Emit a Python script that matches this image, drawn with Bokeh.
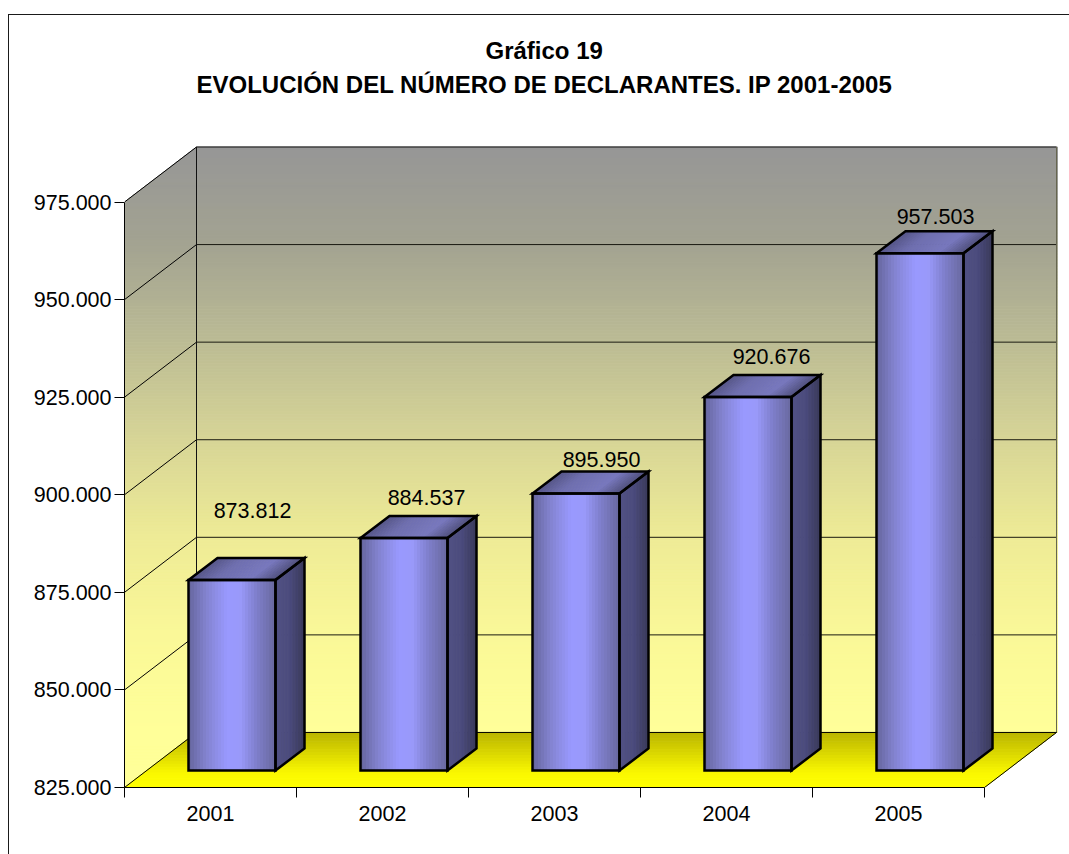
from bokeh.plotting import figure
from bokeh.models import Range1d, FixedTicker, Title, ColumnDataSource, InlineStyleSheet
from bokeh.embed import file_html
from bokeh.resources import INLINE
from bokeh.core.properties import value

# ---- data
years = ["2001", "2002", "2003", "2004", "2005"]
declarantes = [873812, 884537, 895950, 920676, 957503]
bar_labels = ["873.812", "884.537", "895.950", "920.676", "957.503"]
y_ticks = [825000, 850000, 875000, 900000, 925000, 950000, 975000]
y_tick_labels = ["825.000", "850.000", "875.000", "900.000", "925.000", "950.000", "975.000"]
title_line_1 = "Gráfico 19"
title_line_2 = "EVOLUCIÓN DEL NÚMERO DE DECLARANTES. IP 2001-2005"

# ---- layout (page pixels)
W, H = 1069, 854
AX_LEFT, AX_RIGHT = 124, 984
AX_BOTTOM, AX_TOP = 786.5, 201.5
FRAME_R, FRAME_T = 1060, 144
FONT = "Liberation Sans"
TEXT_SIZE = "21.5px"
slot_px = (AX_RIGHT - AX_LEFT) / len(years)
k = (y_ticks[-1] - y_ticks[0]) / (AX_BOTTOM - AX_TOP)   # value per pixel

def dxu(px):
    return px / slot_px

def dyu(px):
    return px * k

def X(px):
    return (px - AX_LEFT) / slot_px

def Y(py):
    return y_ticks[0] + (AX_BOTTOM - py) * k

def lerp(stops, t):
    for (t0, c0), (t1, c1) in zip(stops, stops[1:]):
        if t <= t1:
            f = 0 if t1 == t0 else (t - t0) / (t1 - t0)
            c = [round(a + (b - a) * f) for a, b in zip(c0, c1)]
            return "#%02x%02x%02x" % tuple(c)
    return "#%02x%02x%02x" % tuple(stops[-1][1])

WALL_DX, WALL_DY = dxu(72), dyu(55)
BAR_SHIFT_X, BAR_SHIFT_Y = dxu(21.5), dyu(17)
BAR_W = dxu(87)
BAR_DX, BAR_DY = dxu(29), dyu(22)
label_dx = [20.5, 22.5, 25.5, 23.5, 15.5]
label_dy = [86.5, 57.5, 51, 57.5, 54]

wall_stops = [(146, (150, 150, 150)), (244, (163, 163, 146)), (340, (187, 187, 148)),
              (440, (215, 213, 150)), (536, (238, 235, 150)), (634, (250, 248, 152)),
              (731, (255, 255, 153)), (790, (255, 255, 153))]
floor_stops = [(0.0, (185, 180, 0)), (0.75, (250, 248, 0)), (1.0, (255, 255, 0))]
front_stops = [(0.0, (100, 100, 155)), (0.2, (130, 130, 205)), (0.45, (153, 153, 255)),
               (0.6, (153, 153, 250)), (0.8, (125, 125, 200)), (1.0, (105, 105, 160))]
top_stops = [(0.0, (85, 85, 135)), (0.3, (110, 110, 175)), (0.7, (120, 120, 190)), (1.0, (80, 80, 125))]
side_stops = [(0.0, (82, 82, 132)), (0.5, (75, 75, 125)), (1.0, (58, 58, 90))]

frame_css = InlineStyleSheet(css=""":host::after {content: ""; position: absolute; left: 8px; top: 14px;
  right: 0; bottom: 0; border-left: 1px solid #1a1a1a; border-top: 1px solid #1a1a1a; pointer-events: none;}""")

p = figure(width=W, height=H, output_backend="svg", toolbar_location=None,
           x_range=Range1d(0, X(FRAME_R)), y_range=Range1d(y_ticks[0], Y(FRAME_T)),
           min_border_left=AX_LEFT, min_border_right=W - FRAME_R,
           min_border_top=FRAME_T, min_border_bottom=H - 787,
           background_fill_color="white", border_fill_color="white", outline_line_color=None,
           stylesheets=[frame_css])
p.grid.visible = False

# ---- axes
yax = p.yaxis[0]
yax.ticker = FixedTicker(ticks=y_ticks)
yax.major_label_overrides = dict(zip(y_ticks, y_tick_labels))
yax.bounds = (y_ticks[0], y_ticks[-1])
yax.major_tick_in = 0
yax.major_tick_out = 10
yax.minor_tick_line_color = None
yax.major_label_standoff = 3
yax.major_label_text_font = FONT
yax.major_label_text_font_size = TEXT_SIZE
yax.major_label_text_color = "#000000"
yax.axis_line_color = "#000000"
yax.major_tick_line_color = "#000000"

xax = p.xaxis[0]
centers = [i + 0.5 for i in range(len(years))]
xax.ticker = FixedTicker(ticks=centers, minor_ticks=list(range(len(years) + 1)))
xax.major_label_overrides = dict(zip(centers, years))
xax.bounds = (0, len(years))
xax.major_tick_in = 0
xax.major_tick_out = 0
xax.minor_tick_in = 0
xax.minor_tick_out = 10
xax.minor_tick_line_color = "#000000"
xax.major_label_standoff = 8
xax.major_label_text_font = FONT
xax.major_label_text_font_size = TEXT_SIZE
xax.major_label_text_color = "#000000"
xax.axis_line_color = "#000000"

# ---- back wall and side wall gradient bands
ymin, ymax = y_ticks[0], y_ticks[-1]
step = 3
bx, by, bc = [], [], []
sx, sy, sc = [], [], []

def side_left(py):
    return AX_LEFT + max(0, 201.5 - py) * 72 / 55

def side_right(py):
    return 196 - max(0, py - 731.5) * 72 / 55

py = 146.5
while py < AX_BOTTOM:
    py2 = min(py + step, AX_BOTTOM)
    col = lerp(wall_stops, (py + py2) / 2)
    if py < 731.5:
        bot = min(py2, 731.5)
        bx.append([X(196), X(1057), X(1057), X(196)])
        by.append([Y(py), Y(py), Y(bot), Y(bot)])
        bc.append(col)
    sx.append([X(side_left(py)), X(side_right(py)), X(side_right(py2)), X(side_left(py2))])
    sy.append([Y(py), Y(py), Y(py2), Y(py2)])
    sc.append(col)
    py = py2
p.patches(bx, by, fill_color=bc, line_color=bc, line_width=1)
p.patches(sx, sy, fill_color=sc, line_color=sc, line_width=1)

# ---- floor
nf = 19
fx, fy, fc = [], [], []
for i in range(nf):
    t0, t1 = i / nf, (i + 1) / nf
    fx.append([(1 - t0) * WALL_DX, len(years) + (1 - t0) * WALL_DX,
               len(years) + (1 - t1) * WALL_DX, (1 - t1) * WALL_DX])
    fy.append([ymin + (1 - t0) * WALL_DY, ymin + (1 - t0) * WALL_DY,
               ymin + (1 - t1) * WALL_DY, ymin + (1 - t1) * WALL_DY])
    fc.append(lerp(floor_stops, (t0 + t1) / 2))
p.patches(fx, fy, fill_color=fc, line_color=fc, line_width=1)

# ---- gridlines on the walls
inner = y_ticks[1:-1]
p.segment([WALL_DX] * len(inner), [v + WALL_DY for v in inner],
          [len(years) + WALL_DX] * len(inner), [v + WALL_DY for v in inner],
          line_color="#1a1a10", line_width=1)
p.segment([0] * len(y_ticks), y_ticks, [WALL_DX] * len(y_ticks), [v + WALL_DY for v in y_ticks],
          line_color="#000000", line_width=1)
top_back = ymax + WALL_DY
p.segment([WALL_DX], [top_back], [len(years) + WALL_DX], [top_back], line_color="#111111", line_width=1)
p.segment([WALL_DX], [ymin + WALL_DY], [WALL_DX], [top_back], line_color="#111111", line_width=1)
p.segment([len(years) + WALL_DX], [ymin + WALL_DY], [len(years) + WALL_DX], [top_back],
          line_color="#666650", line_width=1)
p.segment([WALL_DX], [ymin + WALL_DY], [len(years) + WALL_DX], [ymin + WALL_DY],
          line_color="#000000", line_width=1)
p.segment([len(years)], [ymin], [len(years) + WALL_DX], [ymin + WALL_DY],
          line_color="#000000", line_width=1)

# ---- bars
for i, v in enumerate(declarantes):
    x0 = i + 0.5 - BAR_W / 2 + BAR_SHIFT_X
    x1 = x0 + BAR_W
    y0 = ymin + BAR_SHIFT_Y
    y1 = v + BAR_SHIFT_Y
    xs, ys, cs = [], [], []
    n = 29
    for j in range(n):          # front
        a, b = x0 + BAR_W * j / n, x0 + BAR_W * (j + 1) / n
        xs.append([a, b, b, a]); ys.append([y0, y0, y1, y1]); cs.append(lerp(front_stops, (j + .5) / n))
    for j in range(n):          # top
        a, b = x0 + BAR_W * j / n, x0 + BAR_W * (j + 1) / n
        xs.append([a, b, b + BAR_DX, a + BAR_DX]); ys.append([y1, y1, y1 + BAR_DY, y1 + BAR_DY])
        cs.append(lerp(top_stops, (j + .5) / n))
    m = 10
    for j in range(m):          # side
        t0, t1 = j / m, (j + 1) / m
        xs.append([x1 + BAR_DX * t0, x1 + BAR_DX * t1, x1 + BAR_DX * t1, x1 + BAR_DX * t0])
        ys.append([y0 + BAR_DY * t0, y0 + BAR_DY * t1, y1 + BAR_DY * t1, y1 + BAR_DY * t0])
        cs.append(lerp(side_stops, (j + .5) / m))
    p.patches(xs, ys, fill_color=cs, line_color=cs, line_width=1)
    p.patches([[x0, x1, x1, x0],
               [x0, x1, x1 + BAR_DX, x0 + BAR_DX],
               [x1, x1 + BAR_DX, x1 + BAR_DX, x1]],
              [[y0, y0, y1, y1],
               [y1, y1, y1 + BAR_DY, y1 + BAR_DY],
               [y0, y0 + BAR_DY, y1 + BAR_DY, y1]],
              fill_color=None, line_color="#000000", line_width=2.5, line_join="miter")

# ---- value labels
src = ColumnDataSource(dict(
    x=[i + 0.5 + BAR_SHIFT_X + dxu(dx) for i, dx in enumerate(label_dx)],
    y=[v + dyu(dy) for v, dy in zip(declarantes, label_dy)],
    t=bar_labels))
p.text("x", "y", text="t", source=src, text_align="center", text_baseline="middle",
       text_font=value(FONT), text_font_size=TEXT_SIZE, text_color="#000000")

# ---- title lines (a blank first panel holds them clear of the wall)
p.add_layout(Title(text=" ", standoff=37, text_font_size="1px"), "above")
for txt, offset, standoff in ((title_line_2, 196 - AX_LEFT, 9), (title_line_1, 485 - AX_LEFT, 2)):
    p.add_layout(Title(text=txt, align="left", offset=offset, standoff=standoff, vertical_align="top",
                       text_font=FONT, text_font_style="bold", text_font_size="24px",
                       text_color="#000000"), "above")

open("out.html", "w").write(file_html(p, INLINE))
